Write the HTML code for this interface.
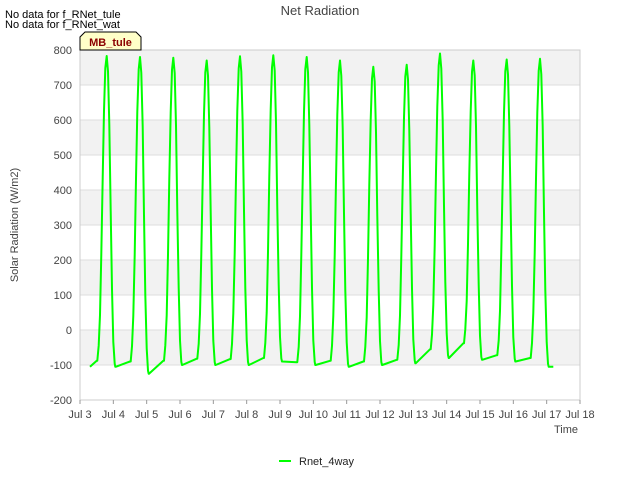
<!DOCTYPE html>
<html><head><meta charset="utf-8"><style>
body{margin:0;background:#fff;font-family:"Liberation Sans","DejaVu Sans",sans-serif;}
svg text{font-family:"Liberation Sans","DejaVu Sans",sans-serif;}
</style></head><body>
<svg id="c" width="640" height="480" viewBox="0 0 640 480">
<rect x="0" y="0" width="640" height="480" fill="#fff"/>
<g id="grid"></g>
<rect x="80" y="50" width="500" height="350" fill="none" stroke="#ccc"/>
<g id="axes"></g>
<g id="series"></g>
<text x="320" y="15" text-anchor="middle" font-size="13" fill="#444">Net Radiation</text>
<text x="5" y="18" font-size="11" fill="#000">No data for f_RNet_tule</text>
<text x="5" y="28" font-size="11" fill="#000">No data for f_RNet_wat</text>
<g>
<path d="M80,50 L80,37 L85,32 L136,32 L141,37 L141,50 Z" fill="#ffffc8" stroke="#000"/>
<text x="110.5" y="46" text-anchor="middle" font-size="11" font-weight="bold" fill="#8b0000">MB_tule</text>
</g>
<text x="18" y="225" text-anchor="middle" font-size="11" fill="#444" transform="rotate(-90 18 225)">Solar Radiation (W/m2)</text>
<text x="578" y="433" text-anchor="end" font-size="11" fill="#444">Time</text>
<g>
<line x1="279" y1="461" x2="291" y2="461" stroke="#00ff00" stroke-width="2"/>
<text x="299" y="465" font-size="11" fill="#222">Rnet_4way</text>
</g>
</svg>
<script>
const yTicks=[-200,-100,0,100,200,300,400,500,600,700,800];
const xTickLabels=["Jul 3","Jul 4","Jul 5","Jul 6","Jul 7","Jul 8","Jul 9","Jul 10","Jul 11","Jul 12","Jul 13","Jul 14","Jul 15","Jul 16","Jul 17","Jul 18"];
const dailyPeaks=[783,780,778,770,782,785,780,770,752,758,790,770,773,775];
const nightStart=[-105,-105,-125,-100,-100,-100,-90,-100,-105,-100,-95,-80,-85,-90];
const nightEnd=[-88,-90,-88,-82,-83,-80,-92,-88,-90,-85,-55,-38,-72,-80];
const profileFrac=[0.52,0.56,0.60,0.64,0.68,0.72,0.76,0.80,0.84,0.88,0.92,0.96,1.0,1.04,1.06];
const profileVal=[0,0.05,0.15,0.35,0.6,0.82,0.96,1,0.95,0.78,0.5,0.25,0.08,0.01,0];
const firstDay=3.3, lastVal=-105;
const X=d=>80+(d-3)*500/15, Y=v=>330-v*0.35;
const ns="http://www.w3.org/2000/svg";
const grid=document.getElementById('grid'),axes=document.getElementById('axes'),ser=document.getElementById('series');
for(let i=0;i<yTicks.length-1;i++){
  if(i%2===0){const r=document.createElementNS(ns,'rect');
  
  
  r.setAttribute('x',80);r.setAttribute('y',Y(yTicks[i+1]+100));r.setAttribute('width',500);r.setAttribute('height',35);r.setAttribute('fill','#f2f2f2');grid.appendChild(r);}
}
yTicks.forEach(v=>{
  const l=document.createElementNS(ns,'line');
  
  
  l.setAttribute('x1',80);l.setAttribute('x2',580);l.setAttribute('y1',Y(v));l.setAttribute('y2',Y(v));l.setAttribute('stroke','#ddd');grid.appendChild(l);
  const t=document.createElementNS(ns,'text');
  
  
  t.setAttribute('x',72);t.setAttribute('y',Y(v)+4);t.setAttribute('text-anchor','end');t.setAttribute('font-size','11');t.setAttribute('fill','#444');t.textContent=v;axes.appendChild(t);
});
xTickLabels.forEach((s,i)=>{
  const t=document.createElementNS(ns,'text');
  
  
  t.setAttribute('x',X(3+i));t.setAttribute('y',418);t.setAttribute('text-anchor','middle');t.setAttribute('font-size','11');t.setAttribute('fill','#444');t.textContent=s;axes.appendChild(t);
  const k=document.createElementNS(ns,'line');
  
  
  k.setAttribute('x1',X(3+i));k.setAttribute('x2',X(3+i));k.setAttribute('y1',400);k.setAttribute('y2',404);k.setAttribute('stroke','#999');axes.appendChild(k);
});
const pts=[];
dailyPeaks.forEach((pk,i)=>{
  const d=3+i;
  const s0=i===0?firstDay:d+0.07;
  pts.push([s0,nightStart[i]]);
  pts.push([d+0.50,nightEnd[i]]);
  profileFrac.forEach((f,j)=>{
    const base=j<7?nightEnd[i]:(i+1<nightStart.length?nightStart[i+1]:lastVal);
    pts.push([d+f,base+(pk-base)*profileVal[j]]);
  });
});
pts.push([17.2,lastVal]);
const p=document.createElementNS(ns,'polyline');


p.setAttribute('points',pts.map(q=>X(q[0]).toFixed(1)+','+Y(q[1]).toFixed(1)).join(' '));
p.setAttribute('fill','none');p.setAttribute('stroke','#00ff00');p.setAttribute('stroke-width','2');p.setAttribute('stroke-linejoin','round');
ser.appendChild(p);
</script>
</body></html>
